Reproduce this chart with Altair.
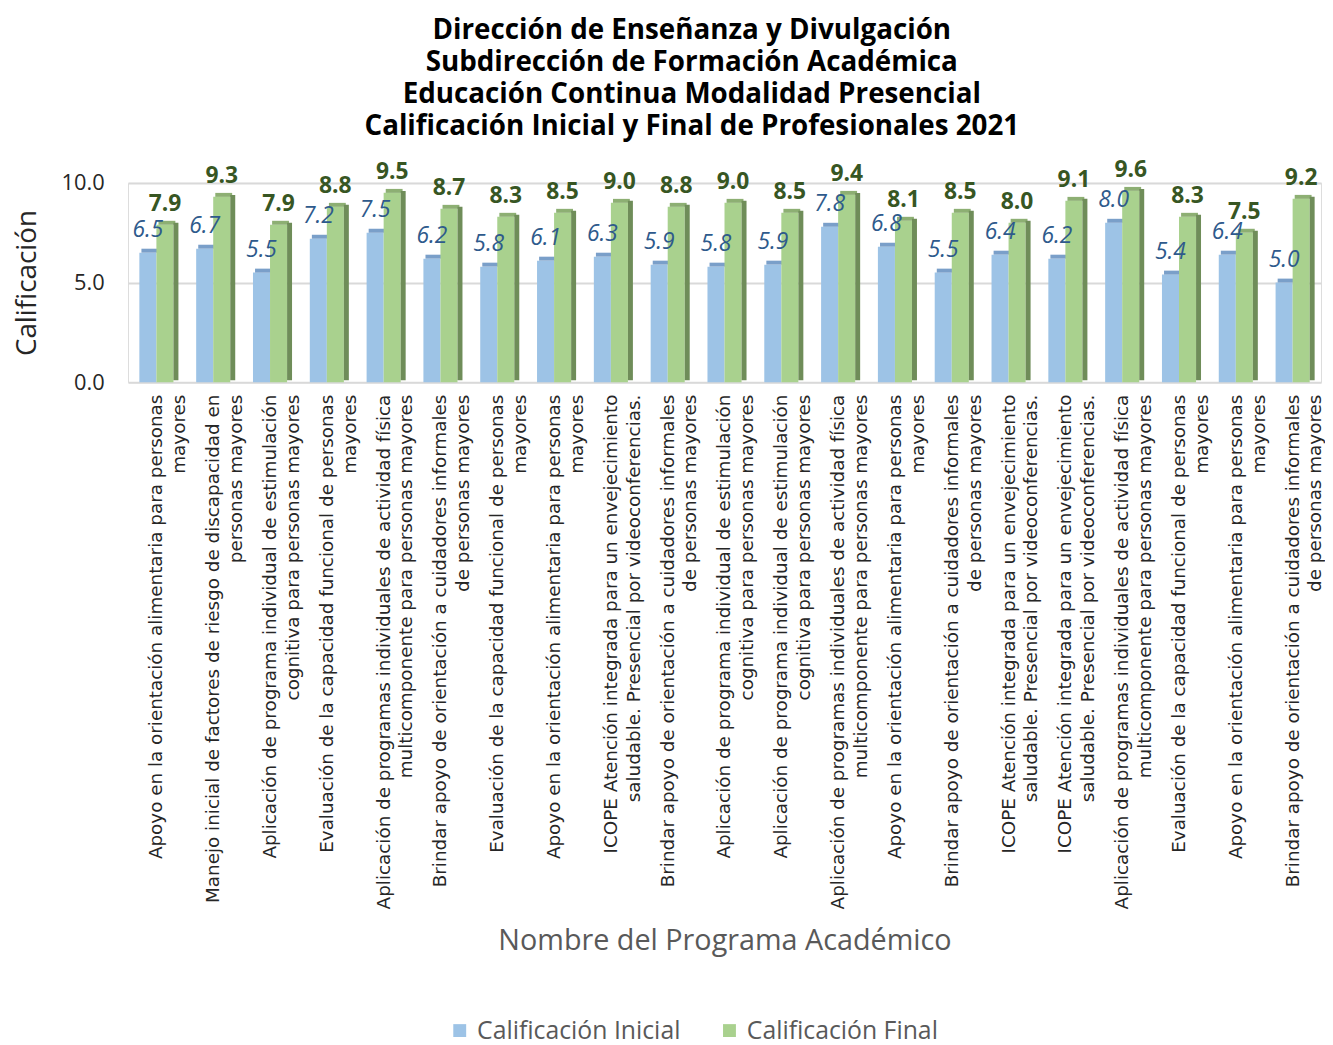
import json
import altair as alt
import pandas as pd

# ---------------- data ----------------
line1 = [
    "Apoyo en la orientación alimentaria para personas",
    "Manejo inicial de factores de riesgo de discapacidad en",
    "Aplicación de programa individual de estimulación",
    "Evaluación de la capacidad funcional de personas",
    "Aplicación de programas individuales de actividad física",
    "Brindar apoyo de orientación a cuidadores informales",
    "Evaluación de la capacidad funcional de personas",
    "Apoyo en la orientación alimentaria para personas",
    "ICOPE Atención integrada para un envejecimiento",
    "Brindar apoyo de orientación a cuidadores informales",
    "Aplicación de programa individual de estimulación",
    "Aplicación de programa individual de estimulación",
    "Aplicación de programas individuales de actividad física",
    "Apoyo en la orientación alimentaria para personas",
    "Brindar apoyo de orientación a cuidadores informales",
    "ICOPE Atención integrada para un envejecimiento",
    "ICOPE Atención integrada para un envejecimiento",
    "Aplicación de programas individuales de actividad física",
    "Evaluación de la capacidad funcional de personas",
    "Apoyo en la orientación alimentaria para personas",
    "Brindar apoyo de orientación a cuidadores informales",
]
line2 = [
    "mayores",
    "personas mayores",
    "cognitiva para personas mayores",
    "mayores",
    "multicomponente para personas mayores",
    "de personas mayores",
    "mayores",
    "mayores",
    "saludable. Presencial por videoconferencias.",
    "de personas mayores",
    "cognitiva para personas mayores",
    "cognitiva para personas mayores",
    "multicomponente para personas mayores",
    "mayores",
    "de personas mayores",
    "saludable. Presencial por videoconferencias.",
    "saludable. Presencial por videoconferencias.",
    "multicomponente para personas mayores",
    "mayores",
    "mayores",
    "de personas mayores",
]
inicial = [6.5, 6.7, 5.5, 7.2, 7.5, 6.2, 5.8, 6.1, 6.3, 5.9, 5.8,
           5.9, 7.8, 6.8, 5.5, 6.4, 6.2, 8.0, 5.4, 6.4, 5.0]
final = [7.9, 9.3, 7.9, 8.8, 9.5, 8.7, 8.3, 8.5, 9.0, 8.8, 9.0,
         8.5, 9.4, 8.1, 8.5, 8.0, 9.1, 9.6, 8.3, 7.5, 9.2]
series = ["Calificación Inicial", "Calificación Final"]
colors = ["#9DC3E6", "#A9D18E"]
cap_colors = ["#7A9FC9", "#8DAF73"]
side_color = "#6F8D59"

FONT = "Open Sans"
LFONT = "DejaVu Sans"

rows = []
for i, (a, b) in enumerate(zip(inicial, final)):
    rows.append({"idx": i, "serie": series[0], "valor": a})
    rows.append({"idx": i, "serie": series[1], "valor": b})
df = pd.DataFrame(rows)

# two-line category labels; second line centred under the first
NBSP = "\u00a0"
labels = []
for a, b in zip(line1, line2):
    n = max(0, round((len(a) - len(b)) * 0.56 / 2 / 0.318))
    labels.append([a, b + NBSP * n])
label_expr = json.dumps(labels, ensure_ascii=False) + "[toNumber(datum.value)]"

x_enc = alt.X(
    "idx:O",
    title="Nombre del Programa Académico",
    scale=alt.Scale(paddingInner=0.4, paddingOuter=0.2),
    axis=alt.Axis(
        labelExpr=label_expr,
        labelAngle=270,
        labelAlign="right",
        labelBaseline="middle",
        labelFont=LFONT,
        labelFontSize=18.5,
        labelLineHeight=23,
        labelColor="#262626",
        labelPadding=12,
        labelLimit=800,
        domain=False,
        ticks=False,
        titleFont=FONT,
        titleFontSize=29,
        titleFontWeight="normal",
        titleColor="#595959",
        titleBaseline="middle",
        titleY=563,
    ),
)
xoff = alt.XOffset("serie:N", sort=series, scale=alt.Scale(domain=series))
y_enc = alt.Y(
    "valor:Q",
    title="Calificación",
    scale=alt.Scale(domain=[0, 10]),
    axis=alt.Axis(
        values=[0, 5, 10],
        format=".1f",
        labelFont=FONT,
        labelFontSize=22,
        labelColor="#262626",
        labelPadding=24,
        domain=False,
        ticks=False,
        gridColor="#D9D9D9",
        gridWidth=2,
        titleFont=FONT,
        titleFontSize=28,
        titleFontWeight="normal",
        titleColor="#262626",
        titlePadding=20,
    ),
)
color_enc = alt.Color(
    "serie:N",
    sort=series,
    scale=alt.Scale(domain=series, range=colors),
    legend=alt.Legend(
        title=None,
        orient="none",
        legendX=322,
        legendY=842,
        direction="horizontal",
        symbolType="square",
        symbolSize=169,
        symbolStrokeWidth=0,
        labelFont=FONT,
        labelFontSize=25,
        labelColor="#595959",
        labelLimit=400,
        labelOffset=5,
        columnPadding=36,
    ),
)

base = alt.Chart(df)
ini = base.transform_filter(alt.datum.serie == series[0])
fin = base.transform_filter(alt.datum.serie == series[1])

# sub-band of each series is about 17 px wide (1203 px / 21 groups * 0.6 / 2)
front_ini = ini.mark_bar().encode(x=x_enc, xOffset=xoff, y=y_enc, color=color_enc)
cap_ini = ini.mark_bar(color=cap_colors[0], width=17, xOffset=-6.6, yOffset=-4).encode(
    x="idx:O", y="valor:Q", y2="valor:Q")
front_fin = fin.mark_bar().encode(x="idx:O", xOffset=xoff, y="valor:Q", color=color_enc)
cap_fin = fin.mark_bar(color=cap_colors[1], width=17, xOffset=10.6, yOffset=-4).encode(
    x="idx:O", y="valor:Q", y2="valor:Q")
side_fin = fin.mark_bar(color=side_color, width=5, xOffset=19.7, yOffset=-2).encode(
    x="idx:O", y="valor:Q")

txt_ini = ini.mark_text(
    font=FONT, fontSize=23, fontStyle="italic", color="#2E5A8C",
    baseline="alphabetic", dy=-16,
).encode(x="idx:O", xOffset=xoff, y="valor:Q", text=alt.Text("valor:Q", format=".1f"))

txt_fin = fin.mark_text(
    font=FONT, fontSize=23, fontWeight="bold", color="#375623",
    baseline="alphabetic", dy=-14,
).encode(x="idx:O", xOffset=xoff, y="valor:Q", text=alt.Text("valor:Q", format=".1f"))

chart = (
    alt.layer(front_ini, cap_ini, front_fin, cap_fin, side_fin, txt_ini, txt_fin)
    .properties(
        width=1203,
        height=201,
        title=alt.Title(
            text=[
                "Dirección de Enseñanza y Divulgación",
                "Subdirección de Formación Académica",
                "Educación Continua Modalidad Presencial",
                "Calificación Inicial y Final de Profesionales 2021",
            ],
            font=FONT,
            fontSize=28,
            fontWeight="bold",
            color="#000000",
            lineHeight=32.5,
            anchor="middle",
            dx=-33,
            offset=18,
        ),
        padding={"left": 5, "right": 0, "top": 4, "bottom": 6},
    )
    .configure_view(stroke=None)
    .configure(background="white")
)

chart.save("out.html", embed_options={"renderer": "svg", "actions": False})
